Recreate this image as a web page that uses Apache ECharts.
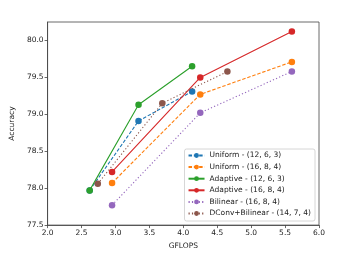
<!DOCTYPE html>
<html><head><meta charset="utf-8">
<script src="https://cdn.jsdelivr.net/npm/echarts@6/dist/echarts.min.js"></script>
<style>html,body{margin:0;padding:0;background:#fff}#c{width:354px;height:255px}</style>
</head><body><div id="c"></div>
<script>
const seriesNames = ['Uniform - (12, 6, 3)','Uniform - (16, 8, 4)','Adaptive - (12, 6, 3)','Adaptive - (16, 8, 4)','Bilinear - (16, 8, 4)','DConv+Bilinear - (14, 7, 4)'];
const uniform12x = [2.62, 3.34, 4.13];
const uniform12y = [77.97, 78.91, 79.31];
const uniform16x = [2.95, 4.25, 5.60];
const uniform16y = [78.07, 79.27, 79.71];
const adaptive12x = [2.62, 3.34, 4.13];
const adaptive12y = [77.97, 79.13, 79.65];
const adaptive16x = [2.95, 4.25, 5.60];
const adaptive16y = [78.22, 79.50, 80.12];
const bilinearx = [2.95, 4.25, 5.60];
const bilineary = [77.77, 79.02, 79.58];
const dconvx = [2.74, 3.69, 4.65];
const dconvy = [78.06, 79.15, 79.58];
const xTicks = [2.0, 2.5, 3.0, 3.5, 4.0, 4.5, 5.0, 5.5, 6.0];
const yTicks = [77.5, 78.0, 78.5, 79.0, 79.5, 80.0];

const colors = ['#1f77b4','#ff7f0e','#2ca02c','#d62728','#9467bd','#8c564b'];
const types = ['dashed','dashed','solid','solid','dotted','dotted'];
const xs = [uniform12x, uniform16x, adaptive12x, adaptive16x, bilinearx, dconvx];
const ys = [uniform12y, uniform16y, adaptive12y, adaptive16y, bilineary, dconvy];
const zip = (a,b) => a.map((v,i)=>[v,b[i]]);
const font = 'DejaVu Sans';
const series = seriesNames.map((n,i)=>({
  name:n, type:'line', data: zip(xs[i], ys[i]),
  symbol:'circle', symbolSize:6.5, showSymbol:true,
  itemStyle:{color:colors[i]},
  lineStyle:{color:colors[i], width:1.1, type: types[i]==='dotted'?[1.2,2.2]:(types[i]==='dashed'?[3.5,1.8]:'solid')},
  z: 2+i
}));
const chart = echarts.init(document.getElementById('c'), null, {renderer:'canvas'});
chart.setOption({
  animation:false,
  color: colors,
  grid:{left:44, right:35, top:22, bottom:29, show:true, borderColor:'#444', borderWidth:0.8},
  xAxis:{type:'value', min:2.0, max:6.0, interval:0.5,
    name:'GFLOPS', nameLocation:'middle', nameGap:16,
    nameTextStyle:{fontFamily:font, fontSize:7.5, color:'#222'},
    axisLine:{lineStyle:{color:'#444', width:0.8}},
    axisTick:{length:3, lineStyle:{color:'#444', width:0.8}},
    axisLabel:{fontFamily:font, fontSize:7.5, color:'#222', margin:4, formatter:v=>v.toFixed(1)},
    splitLine:{show:false}},
  yAxis:{type:'value', min:77.5, max:80.25, interval:0.5,
    name:'Accuracy', nameLocation:'middle', nameGap:24, nameRotate:90,
    nameTextStyle:{fontFamily:font, fontSize:7.5, color:'#222'},
    axisLine:{show:true, lineStyle:{color:'#444', width:0.8}},
    axisTick:{length:3, lineStyle:{color:'#444', width:0.8}},
    axisLabel:{fontFamily:font, fontSize:7.5, color:'#222', margin:4, showMaxLabel:false, formatter:v=>v.toFixed(1)},
    splitLine:{show:false}},
  legend:{orient:'vertical', right:39, bottom:34, data:seriesNames,
    backgroundColor:'rgba(255,255,255,0.8)', borderColor:'#ccc', borderWidth:0.8, borderRadius:2,
    padding:[2,4,3,3], itemGap:2.6, itemWidth:16, itemHeight:6,
    textStyle:{fontFamily:font, fontSize:7.5, color:'#222', lineHeight:9}},
  series: series
});
</script></body></html>
